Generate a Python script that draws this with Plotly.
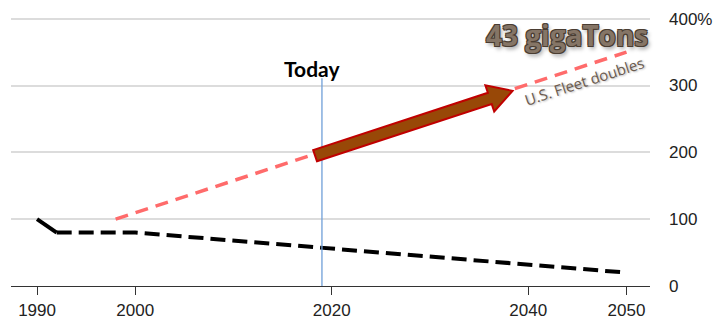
import plotly.graph_objects as go

# ---- data -------------------------------------------------------------
hist_years = [1990, 1992]
hist_values = [100, 80]

proj_years = [1992, 2000, 2050]
proj_values = [80, 80, 20]

fleet_years = [1998, 2050]
fleet_values = [100, 350]

today_year = 2019
today_span = [0, 311]

arrow_tail = (2018.3, 195)
arrow_tip = (2038.4, 292)

x_ticks = [1990, 2000, 2020, 2040, 2050]
y_ticks = [0, 100, 200, 300, 400]
y_tick_text = ["0", "100", "200", "300", "400%"]

# ---- layout geometry ----------------------------------------------------
W, H = 721, 320
M = dict(l=11, r=71, t=0, b=30)
X_RANGE = [1987.35, 2052.39]
Y_RANGE = [0, 428]
PW = W - M["l"] - M["r"]
PH = H - M["t"] - M["b"]


def to_px(x, y):
    px = (x - X_RANGE[0]) / (X_RANGE[1] - X_RANGE[0]) * PW
    py = (1 - (y - Y_RANGE[0]) / (Y_RANGE[1] - Y_RANGE[0])) * PH
    return px, py


def to_data(px, py):
    x = X_RANGE[0] + px / PW * (X_RANGE[1] - X_RANGE[0])
    y = Y_RANGE[0] + (1 - py / PH) * (Y_RANGE[1] - Y_RANGE[0])
    return x, y


def block_arrow(tail, tip, shaft=6.0, head=14.0, head_len=24.0):
    """Polygon path for a thick block arrow, built in screen space."""
    tx, ty = to_px(*tail)
    hx, hy = to_px(*tip)
    dx, dy = hx - tx, hy - ty
    length = (dx * dx + dy * dy) ** 0.5
    ux, uy = dx / length, dy / length
    nx, ny = -uy, ux
    bx, by = hx - ux * head_len, hy - uy * head_len
    pts = [
        (tx + nx * shaft, ty + ny * shaft),
        (bx + nx * shaft, by + ny * shaft),
        (bx + nx * head, by + ny * head),
        (hx, hy),
        (bx - nx * head, by - ny * head),
        (bx - nx * shaft, by - ny * shaft),
        (tx - nx * shaft, ty - ny * shaft),
    ]
    d = [to_data(px, py) for px, py in pts]
    return "M " + " L ".join(f"{x:.4f},{y:.4f}" for x, y in d) + " Z"


fig = go.Figure()

fig.add_trace(go.Scatter(
    x=fleet_years, y=fleet_values, mode="lines",
    line=dict(color="#ff6b6b", width=3.5, dash="13px,8px"),
    hoverinfo="skip", showlegend=False,
))
fig.add_trace(go.Scatter(
    x=hist_years, y=hist_values, mode="lines",
    line=dict(color="#000000", width=4),
    hoverinfo="skip", showlegend=False,
))
fig.add_trace(go.Scatter(
    x=proj_years, y=proj_values, mode="lines",
    line=dict(color="#000000", width=4, dash="15px,7px"),
    hoverinfo="skip", showlegend=False,
))

# "Today" marker
fig.add_shape(
    type="line", xref="x", yref="y",
    x0=today_year, x1=today_year, y0=today_span[0], y1=today_span[1],
    line=dict(color="#6f9fd8", width=1.3), layer="above",
)

# Growth arrow along the fleet projection
fig.add_shape(
    type="path", xref="x", yref="y",
    path=block_arrow(arrow_tail, arrow_tip),
    fillcolor="#984807", line=dict(color="#c00000", width=2),
    layer="above",
)

outline = "#4a3d32"
fig.add_annotation(
    x=2018, y=325, xref="x", yref="y", text="<b>Today</b>",
    showarrow=False, font=dict(family="Lato", size=21, color="#000000"),
)
fig.add_annotation(
    x=2043.9, y=375, xref="x", yref="y", text="<b>43 gigaTons</b>",
    showarrow=False,
    font=dict(
        family="Open Sans", size=28, color="#857566",
        shadow=(f"-1px -1px 0 {outline}, 1px -1px 0 {outline}, "
                f"-1px 1px 0 {outline}, 1px 1px 0 {outline}, "
                "2px 3px 4px rgba(0,0,0,0.4)"),
    ),
)
fig.add_annotation(
    x=2045.7, y=307, xref="x", yref="y", text="U.S. Fleet doubles",
    showarrow=False, textangle=-18,
    font=dict(family="Open Sans", size=15, color="#6b5a4e",
              shadow="1px 1px 2px rgba(0,0,0,0.3)"),
)

fig.update_layout(
    width=W, height=H, margin=M,
    paper_bgcolor="white", plot_bgcolor="white",
    showlegend=False,
    xaxis=dict(
        range=X_RANGE, tickvals=x_ticks, ticktext=[str(v) for v in x_ticks],
        showgrid=False, zeroline=False,
        showline=True, linecolor="#333333", linewidth=1.2,
        ticks="outside", ticklen=8, tickcolor="#333333", tickwidth=1.2,
        tickfont=dict(family="Liberation Sans", size=17, color="#222222"),
        fixedrange=True,
    ),
    yaxis=dict(
        range=Y_RANGE, side="right", tickvals=y_ticks, ticktext=y_tick_text,
        showgrid=True, gridcolor="#dcdcdc", gridwidth=1.5, zeroline=False,
        ticks="", ticklabelstandoff=18,
        tickfont=dict(family="Liberation Sans", size=17, color="#222222"),
        fixedrange=True,
    ),
)

fig.write_html("out.html")
